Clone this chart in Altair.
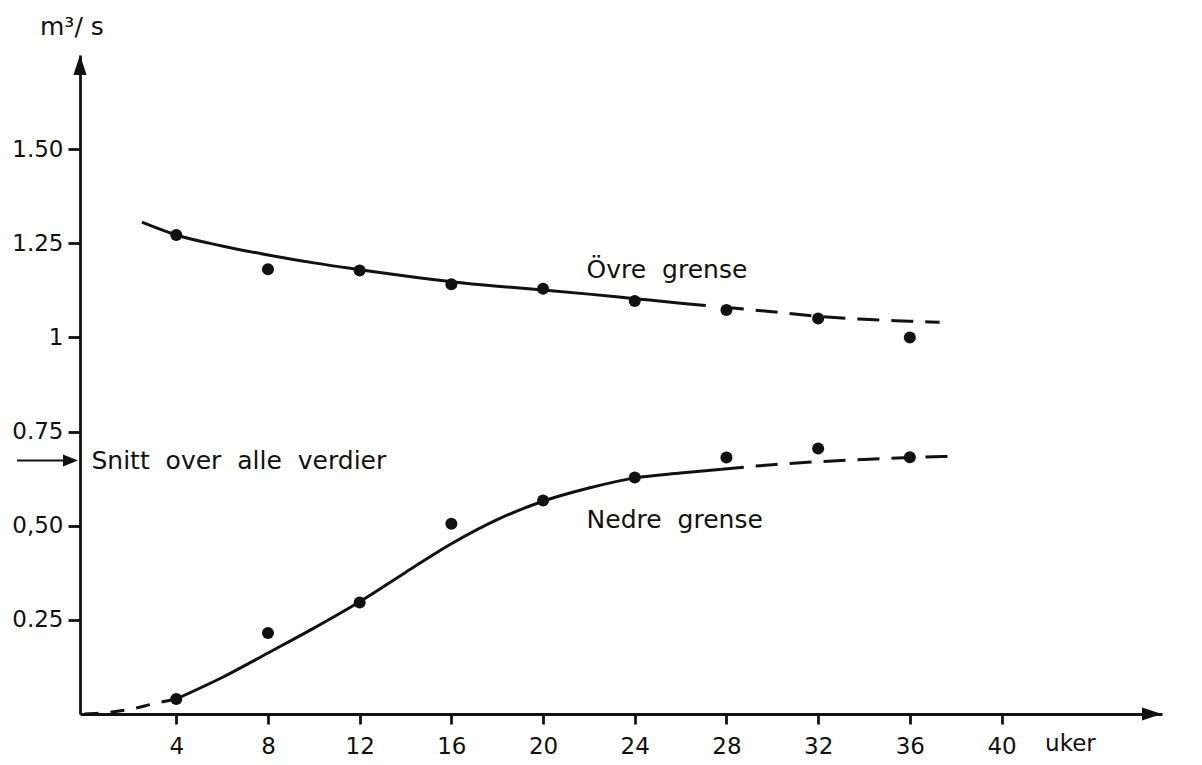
import altair as alt
import pandas as pd

# ---- data ----
weeks = [4, 8, 12, 16, 20, 24, 28, 32, 36]
upper_points = [1.272, 1.181, 1.178, 1.141, 1.129, 1.097, 1.073, 1.050, 1.000]
lower_points = [0.040, 0.215, 0.296, 0.505, 0.567, 0.628, 0.681, 0.705, 0.682]

upper_solid_x = [2.5, 4, 6, 8, 10, 12, 14, 16, 18, 20, 22, 24, 26, 27.1]
upper_solid_y = [1.306, 1.272, 1.243, 1.219, 1.198, 1.180, 1.163, 1.148, 1.136, 1.126, 1.115, 1.103, 1.091, 1.085]
upper_dash_x = [27.8, 30, 32, 34, 36, 37.3]
upper_dash_y = [1.081, 1.068, 1.056, 1.048, 1.043, 1.040]

lower_start_x = [0, 1, 2, 3, 4]
lower_start_y = [0.0, 0.004, 0.013, 0.027, 0.040]
lower_solid_x = [4, 6, 8, 10, 12, 14, 16, 18, 20, 22, 24, 26, 27.8]
lower_solid_y = [0.040, 0.097, 0.162, 0.228, 0.298, 0.376, 0.452, 0.516, 0.565, 0.600, 0.627, 0.640, 0.650]
lower_dash_x = [27.8, 30, 32, 34, 36, 37.8]
lower_dash_y = [0.650, 0.662, 0.670, 0.676, 0.681, 0.684]

x_ticks = [4, 8, 12, 16, 20, 24, 28, 32, 36, 40]
y_ticks = [0.25, 0.5, 0.75, 1, 1.25, 1.5]
X_MIN, X_MAX = -0.2, 47.0
Y_MIN, Y_MAX = 0.0, 1.75
mean_value = 0.673

NB = "\u00a0"
labels_text = ["Övre" + NB + " grense", "Nedre" + NB + " grense",
               "Snitt" + NB + " over" + NB + " alle" + NB + " verdier"]
labels_x = [21.9, 21.9, 0.3]
labels_y = [1.180, 0.516, mean_value]

INK = "#111111"
FONT = "DejaVu Sans"

xs = alt.Scale(domain=[X_MIN, X_MAX], nice=False, zero=False)
ys = alt.Scale(domain=[Y_MIN, Y_MAX], nice=False, zero=False)

xaxis = alt.Axis(values=x_ticks, title=None, grid=False, domainColor=INK, domainWidth=2.8,
                 tickColor=INK, tickWidth=2.8, tickSize=10, labelFont=FONT, labelFontSize=23,
                 labelColor=INK, labelPadding=11, labelFlush=False)
yaxis = alt.Axis(values=y_ticks, title=None, grid=False, domainColor=INK, domainWidth=2.8,
                 tickColor=INK, tickWidth=2.8, tickSize=12, labelFont=FONT, labelFontSize=23,
                 labelColor=INK, labelPadding=5, labelFlush=False,
                 labelExpr="datum.value == 1 ? '1' : datum.value == 0.5 ? '0,50' : format(datum.value, '.2f')")


def seg(xv, yv):
    return pd.DataFrame({"x": xv, "y": yv})


def line_layer(df, dash=None):
    kw = dict(color=INK, strokeWidth=3, interpolate="monotone")
    if dash:
        kw["strokeDash"] = dash
    return alt.Chart(df).mark_line(**kw).encode(
        x=alt.X("x:Q", scale=xs, axis=xaxis),
        y=alt.Y("y:Q", scale=ys, axis=yaxis),
    )


lines = [
    line_layer(seg(upper_solid_x, upper_solid_y)),
    line_layer(seg(upper_dash_x, upper_dash_y), [22, 12]),
    line_layer(seg(lower_start_x, lower_start_y), [14, 12]),
    line_layer(seg(lower_solid_x, lower_solid_y)),
    line_layer(seg(lower_dash_x, lower_dash_y), [22, 12]),
]

pts = pd.DataFrame({"x": weeks * 2, "y": upper_points + lower_points})
points = alt.Chart(pts).mark_circle(color=INK, size=145, opacity=1).encode(
    x=alt.X("x:Q", scale=xs), y=alt.Y("y:Q", scale=ys))

lab = pd.DataFrame({"t": labels_text, "x": labels_x, "y": labels_y})
labels = alt.Chart(lab).mark_text(font=FONT, fontSize=25, color=INK, align="left",
                                  baseline="middle").encode(
    x=alt.X("x:Q", scale=xs), y=alt.Y("y:Q", scale=ys), text="t:N")

# axis arrow heads at the axis ends
ends = pd.DataFrame({"x": [X_MIN], "y": [Y_MAX]})
up_arrow = alt.Chart(ends).mark_point(shape="M0,0L-0.33,1L0.33,1Z", filled=True, size=1600,
                                      color=INK, opacity=1, strokeWidth=0).encode(
    x=alt.X("x:Q", scale=xs), y=alt.Y("y:Q", scale=ys))
ends2 = pd.DataFrame({"x": [X_MAX], "y": [Y_MIN]})
right_arrow = alt.Chart(ends2).mark_point(shape="M0,0L-1,-0.33L-1,0.33Z", filled=True, size=1600,
                                          color=INK, opacity=1, strokeWidth=0).encode(
    x=alt.X("x:Q", scale=xs), y=alt.Y("y:Q", scale=ys))

# arrow pointing at the mean value (outside the plot, left of the y axis)
mean_df = pd.DataFrame({"y": [mean_value]})
mean_rule = alt.Chart(mean_df).mark_rule(color=INK, strokeWidth=2).encode(
    x=alt.value(-63), x2=alt.value(-10), y=alt.Y("y:Q", scale=ys))
mean_head = alt.Chart(mean_df).mark_point(shape="M0,0L-1,-0.4L-1,0.4Z", filled=True, size=900,
                                          color=INK, opacity=1, strokeWidth=0).encode(
    x=alt.value(-2), y=alt.Y("y:Q", scale=ys))

# unit labels
unit_y = alt.Chart(pd.DataFrame({"t": ["m³/" + NB + "s"]})).mark_text(
    font=FONT, fontSize=25, color=INK, align="left", baseline="middle").encode(
    x=alt.value(-40), y=alt.value(-28), text="t:N")
unit_x = alt.Chart(pd.DataFrame({"t": ["uker"], "x": [41.9]})).mark_text(
    font=FONT, fontSize=23, color=INK, align="left", baseline="middle").encode(
    x=alt.X("x:Q", scale=xs), y=alt.value(689), text="t:N")

chart = alt.layer(*lines, points, labels, up_arrow, right_arrow, mean_rule, mean_head,
                  unit_y, unit_x).properties(
    width=1082, height=659,
    padding={"left": 72, "top": 47, "right": 32, "bottom": 43},
    autosize=alt.AutoSizeParams(type="none"),
    background="white",
).configure_view(stroke=None)

chart.save("out.html", embed_options={"renderer": "svg", "actions": False})
